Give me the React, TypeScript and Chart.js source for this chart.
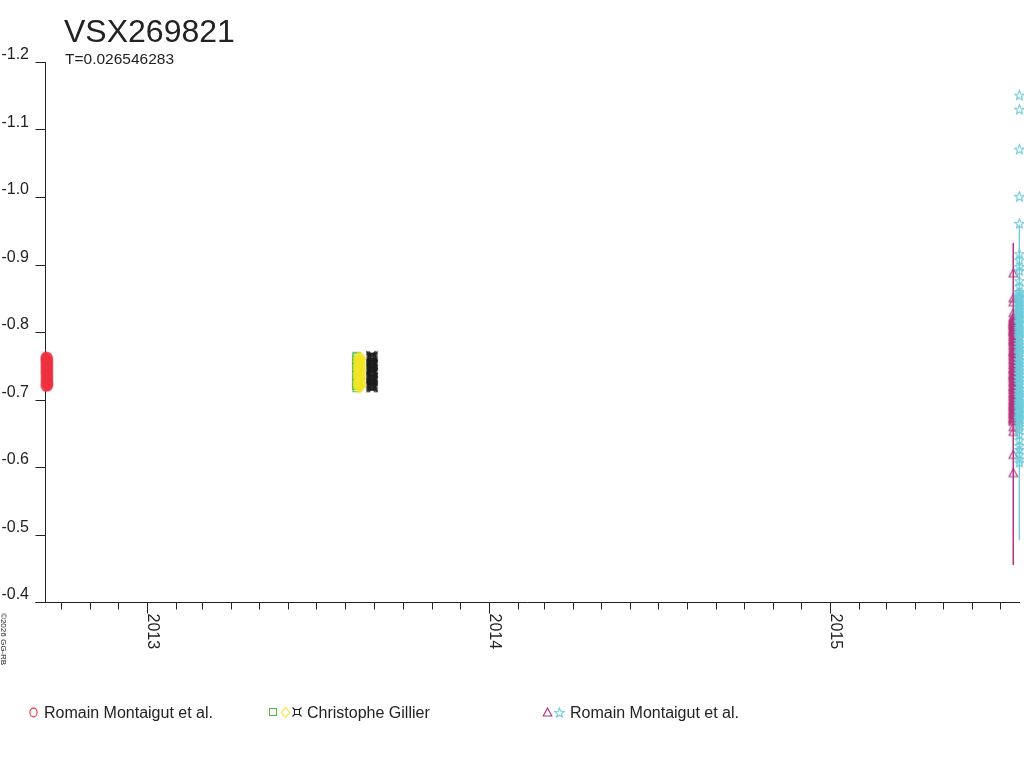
import React, { useEffect, useRef } from "react";
import { Chart, registerables } from "chart.js";
Chart.register(...registerables);

// ---------- text ----------
const titleText = "VSX269821";
const subtitleText = "T=0.026546283";
const creditText = "©2026 GG-RB";

// ---------- axes ----------
const yMin = -1.2;
const yMax = -0.4;
const yTickValues = [-1.2, -1.1, -1.0, -0.9, -0.8, -0.7, -0.6, -0.5, -0.4];
const yTickLabels = ["-1.2", "-1.1", "-1.0", "-0.9", "-0.8", "-0.7", "-0.6", "-0.5", "-0.4"];
const xStart = "2012-09-14T00:45";
const xEnd = "2015-07-22T16:00";
const yearTicks = [2013, 2014, 2015];

// ---------- series: Romain Montaigut et al. (circles) ----------
const redNights = ["2012-09-14T06:00", "2012-09-16T01:30", "2012-09-17T21:00"];
const redMags = [
  [-0.741, -0.746, -0.752, -0.757, -0.761, -0.763, -0.76, -0.755, -0.749, -0.743, -0.737, -0.731, -0.726, -0.722, -0.719, -0.72, -0.724, -0.729, -0.735, -0.74, -0.747, -0.753, -0.758, -0.762],
  [-0.759, -0.754, -0.748, -0.742, -0.736, -0.73, -0.725, -0.721, -0.719, -0.723, -0.727, -0.733, -0.738, -0.744, -0.75, -0.756, -0.761, -0.763, -0.757, -0.751, -0.745, -0.739, -0.732, -0.726],
  [-0.721, -0.724, -0.728, -0.734, -0.739, -0.745, -0.751, -0.756, -0.76, -0.762, -0.758, -0.753, -0.747, -0.741, -0.735, -0.729, -0.723, -0.72, -0.722, -0.727, -0.733, -0.74, -0.746, -0.752],
];

// ---------- series: Christophe Gillier (squares, diamonds, ¤) ----------
const greenNights = ["2013-08-13T08:00"];
const greenMags = [
  [-0.764, -0.758, -0.751, -0.744, -0.737, -0.73, -0.724, -0.719, -0.716, -0.72, -0.727, -0.735, -0.743, -0.75, -0.757, -0.762, -0.747, -0.733, -0.722, -0.755],
];
const yellowNights = ["2013-08-14T05:00", "2013-08-16T00:00", "2013-08-17T14:00"];
const yellowMags = [
  [-0.762, -0.757, -0.751, -0.745, -0.739, -0.733, -0.727, -0.722, -0.718, -0.721, -0.726, -0.732, -0.738, -0.744, -0.75, -0.756, -0.761, -0.748, -0.736, -0.724],
  [-0.718, -0.722, -0.728, -0.734, -0.74, -0.746, -0.752, -0.758, -0.762, -0.759, -0.753, -0.747, -0.741, -0.735, -0.729, -0.723, -0.719, -0.731, -0.743, -0.755],
  [-0.76, -0.754, -0.749, -0.742, -0.737, -0.731, -0.725, -0.72, -0.719, -0.724, -0.73, -0.736, -0.742, -0.748, -0.754, -0.759, -0.762, -0.745, -0.733, -0.721],
];
const blackNights = ["2013-08-28T19:00", "2013-08-31T00:00"];
const blackMags = [
  [-0.764, -0.759, -0.753, -0.747, -0.741, -0.735, -0.729, -0.723, -0.719, -0.717, -0.721, -0.726, -0.732, -0.738, -0.744, -0.75, -0.756, -0.761, -0.763, -0.745, -0.731, -0.724],
  [-0.717, -0.72, -0.725, -0.731, -0.737, -0.743, -0.749, -0.755, -0.76, -0.764, -0.762, -0.757, -0.751, -0.745, -0.739, -0.733, -0.727, -0.722, -0.718, -0.74, -0.752, -0.728],
];

// ---------- series: Romain Montaigut et al. (triangles, stars) ----------
const magentaNights = ["2015-07-15T12:00"];
const magentaMags = [
  [-0.887, -0.85, -0.844, -0.828, -0.745, -0.77, -0.792, -0.808, -0.818, -0.812, -0.799, -0.781, -0.76, -0.739, -0.718, -0.7, -0.686, -0.676, -0.669, -0.673, -0.684, -0.698, -0.715, -0.733, -0.752, -0.771, -0.789, -0.803, -0.815, -0.822, -0.816, -0.806, -0.794, -0.779, -0.763, -0.747, -0.731, -0.714, -0.697, -0.683, -0.671, -0.667, -0.678, -0.691, -0.707, -0.724, -0.742, -0.758, -0.776, -0.796, -0.81, -0.82, -0.813, -0.801, -0.786, -0.768, -0.75, -0.735, -0.721, -0.705, -0.69, -0.679, -0.672, -0.681, -0.694, -0.711, -0.728, -0.744, -0.765, -0.784, -0.8, -0.811, -0.804, -0.788, -0.773, -0.755, -0.737, -0.726, -0.709, -0.693, -0.688, -0.703, -0.719, -0.736, -0.659, -0.652, -0.618, -0.591],
];
const magentaRange = [-0.932, -0.455];
const cyanNights = ["2015-07-22T00:00"];
const cyanMags = [
  [-1.151, -1.13, -1.071, -1.001, -0.961, -0.916, -0.907, -0.897, -0.891, -0.876, -0.868, -0.742, -0.768, -0.791, -0.812, -0.83, -0.846, -0.858, -0.851, -0.837, -0.819, -0.798, -0.776, -0.754, -0.733, -0.712, -0.694, -0.679, -0.668, -0.66, -0.672, -0.688, -0.706, -0.727, -0.749, -0.772, -0.795, -0.816, -0.834, -0.849, -0.86, -0.853, -0.84, -0.823, -0.803, -0.781, -0.759, -0.738, -0.717, -0.699, -0.683, -0.671, -0.664, -0.676, -0.692, -0.711, -0.731, -0.753, -0.777, -0.8, -0.821, -0.838, -0.852, -0.845, -0.828, -0.808, -0.786, -0.764, -0.744, -0.722, -0.703, -0.686, -0.674, -0.655, -0.681, -0.697, -0.716, -0.737, -0.758, -0.782, -0.805, -0.826, -0.842, -0.855, -0.833, -0.814, -0.793, -0.77, -0.748, -0.726, -0.708, -0.69, -0.648, -0.64, -0.632, -0.626, -0.619, -0.612, -0.607],
];
const cyanRange = [-0.958, -0.492];

// ---------- colours ----------
const cRed = "#ee3341";
const cGreen = "#58b947";
const cYellow = "#f3e52a";
const cBlack = "#1e1e1e";
const cMagenta = "#b3327d";
const cCyan = "#6ecbdb";
const cInk = "#222222";

const FONT = "'Liberation Sans', Arial, sans-serif";

const toDay = (s: string) => Date.parse(s + ":00Z") / 86400000;

function nightsToPoints(nights: string[], mags: number[][]) {
  const pts: { x: number; y: number }[] = [];
  nights.forEach((n, i) => {
    const x = toDay(n);
    mags[i].forEach((m) => pts.push({ x, y: m }));
  });
  return pts;
}

function marker(kind: string, color: string): HTMLCanvasElement {
  const c = document.createElement("canvas");
  c.width = 13;
  c.height = 13;
  const g = c.getContext("2d")!;
  g.strokeStyle = color;
  g.lineWidth = 1.1;
  const m = 6.5;
  g.beginPath();
  if (kind === "circle") {
    g.ellipse(m, m, 3.6, 4.4, 0, 0, Math.PI * 2);
  } else if (kind === "square") {
    g.rect(2.5, 2.5, 7, 7);
  } else if (kind === "diamond") {
    g.moveTo(m, m - 5);
    g.lineTo(m + 4.2, m);
    g.lineTo(m, m + 5);
    g.lineTo(m - 4.2, m);
    g.closePath();
  } else if (kind === "curr") {
    g.rect(3.5, 3.5, 5, 5);
    g.moveTo(3.5, 3.5); g.lineTo(1.5, 1.5);
    g.moveTo(8.5, 3.5); g.lineTo(10.5, 1.5);
    g.moveTo(3.5, 8.5); g.lineTo(1.5, 10.5);
    g.moveTo(8.5, 8.5); g.lineTo(10.5, 10.5);
  } else if (kind === "triangle") {
    g.moveTo(m, m - 4.5);
    g.lineTo(m + 4.3, m + 3.5);
    g.lineTo(m - 4.3, m + 3.5);
    g.closePath();
  } else if (kind === "star") {
    for (let i = 0; i < 10; i++) {
      const r = i % 2 === 0 ? 5 : 2.2;
      const a = -Math.PI / 2 + (i * Math.PI) / 5;
      const px = m + r * Math.cos(a);
      const py = m + 0.5 + r * Math.sin(a);
      if (i === 0) g.moveTo(px, py);
      else g.lineTo(px, py);
    }
    g.closePath();
  }
  g.stroke();
  return c;
}

export default function App() {
  const ref = useRef<HTMLCanvasElement | null>(null);

  useEffect(() => {
    if (!ref.current) return;
    const mk = {
      circle: marker("circle", cRed),
      square: marker("square", cGreen),
      diamond: marker("diamond", cYellow),
      curr: marker("curr", cBlack),
      triangle: marker("triangle", cMagenta),
      star: marker("star", cCyan),
    };

    const legendGroups = [
      { styles: [mk.circle], label: "Romain Montaigut et al." },
      { styles: [mk.square, mk.diamond, mk.curr], label: "Christophe Gillier" },
      { styles: [mk.triangle, mk.star], label: "Romain Montaigut et al." },
    ];

    const magX = toDay(magentaNights[0]);
    const cyanX = toDay(cyanNights[0]);

    const decorPlugin = {
      id: "decor",
      beforeDatasetsDraw(chart: any) {
        const { ctx, chartArea, scales } = chart;
        const xs = scales.x;
        const ys = scales.y;
        const L = Math.round(chartArea.left) + 0.5;
        const R = Math.round(chartArea.right);
        const B = Math.round(chartArea.bottom) + 0.5;
        const T = Math.round(chartArea.top);
        ctx.save();
        ctx.strokeStyle = cInk;
        ctx.lineWidth = 1;
        ctx.beginPath();
        ctx.moveTo(L, T);
        ctx.lineTo(L, B);
        ctx.moveTo(L - 10, B);
        ctx.lineTo(R, B);
        // y ticks
        yTickValues.forEach((v) => {
          const y = Math.round(ys.getPixelForValue(v)) + 0.5;
          ctx.moveTo(L - 10, y);
          ctx.lineTo(L, y);
        });
        // monthly x ticks
        const d0 = new Date(xs.min * 86400000);
        for (let yr = d0.getUTCFullYear(); yr <= 2016; yr++) {
          for (let mo = 0; mo < 12; mo++) {
            const t = Date.UTC(yr, mo, 1) / 86400000;
            if (t < xs.min || t > xs.max) continue;
            const x = Math.round(xs.getPixelForValue(t)) + 0.5;
            ctx.moveTo(x, B);
            ctx.lineTo(x, B + (mo === 0 ? 11 : 7));
          }
        }
        ctx.stroke();

        ctx.fillStyle = cInk;
        // y labels
        ctx.font = `16px ${FONT}`;
        ctx.textAlign = "right";
        ctx.textBaseline = "alphabetic";
        yTickValues.forEach((v, i) => {
          const y = ys.getPixelForValue(v);
          ctx.fillText(yTickLabels[i], 29, y - 3);
        });
        // year labels, rotated clockwise
        ctx.textAlign = "left";
        yearTicks.forEach((yr) => {
          const x = Math.round(xs.getPixelForValue(Date.UTC(yr, 0, 1) / 86400000));
          ctx.save();
          ctx.translate(x + 0.5, B + 11);
          ctx.rotate(Math.PI / 2);
          ctx.fillText(String(yr), 0, 0);
          ctx.restore();
        });
        // title
        ctx.font = `32px ${FONT}`;
        ctx.fillText(titleText, 64, 42);
        ctx.font = `15.5px ${FONT}`;
        ctx.fillText(subtitleText, 65, 64);
        // credit
        ctx.save();
        ctx.font = `8px ${FONT}`;
        ctx.translate(1, 613);
        ctx.rotate(Math.PI / 2);
        ctx.fillText(creditText, 0, 0);
        ctx.restore();
        // legend
        ctx.font = `16px ${FONT}`;
        const starts = [27, 267, 541];
        const textX = [44, 307, 570];
        legendGroups.forEach((grp, gi) => {
          grp.styles.forEach((img, k) => {
            ctx.drawImage(img, starts[gi] + k * 12, 706);
          });
          ctx.fillText(grp.label, textX[gi], 718);
        });
        ctx.restore();
      },
    };

    const common = { showLine: false, clip: false as any, pointBorderWidth: 0 };
    const chart = new Chart(ref.current, {
      type: "scatter",
      data: {
        datasets: [
          {
            label: "magenta range",
            data: [{ x: magX, y: magentaRange[0] }, { x: magX, y: magentaRange[1] }],
            showLine: true,
            borderColor: cMagenta,
            borderWidth: 1,
            pointRadius: 0,
            clip: false as any,
            order: 10,
          },
          {
            label: "cyan range",
            data: [{ x: cyanX, y: cyanRange[0] }, { x: cyanX, y: cyanRange[1] }],
            showLine: true,
            borderColor: cCyan,
            borderWidth: 1,
            pointRadius: 0,
            clip: false as any,
            order: 10,
          },
          { ...common, label: "Romain Montaigut et al. (V)", data: nightsToPoints(magentaNights, magentaMags), pointStyle: mk.triangle, order: 5 },
          { ...common, label: "Romain Montaigut et al. (B)", data: nightsToPoints(cyanNights, cyanMags), pointStyle: mk.star, order: 4 },
          { ...common, label: "Christophe Gillier 1", data: nightsToPoints(greenNights, greenMags), pointStyle: mk.square, order: 3 },
          { ...common, label: "Christophe Gillier 2", data: nightsToPoints(yellowNights, yellowMags), pointStyle: mk.diamond, order: 2 },
          { ...common, label: "Christophe Gillier 3", data: nightsToPoints(blackNights, blackMags), pointStyle: mk.curr, order: 2 },
          { ...common, label: "Romain Montaigut et al.", data: nightsToPoints(redNights, redMags), pointStyle: mk.circle, order: 1 },
        ] as any,
      },
      options: {
        responsive: false,
        maintainAspectRatio: false,
        animation: false,
        events: [],
        layout: { padding: { left: 45, top: 62, right: 4, bottom: 166 } },
        plugins: {
          legend: { display: false },
          tooltip: { enabled: false },
          title: { display: false },
        },
        scales: {
          x: { type: "linear", display: false, min: toDay(xStart), max: toDay(xEnd) },
          y: { type: "linear", display: false, min: yMin, max: yMax, reverse: true },
        },
      } as any,
      plugins: [decorPlugin],
    });
    return () => chart.destroy();
  }, []);

  return (
    <div style={{ position: "fixed", left: 0, top: 0, width: 1024, height: 768, background: "#fff" }}>
      <canvas ref={ref} width={1024} height={768} style={{ display: "block", width: 1024, height: 768 }} />
    </div>
  );
}
